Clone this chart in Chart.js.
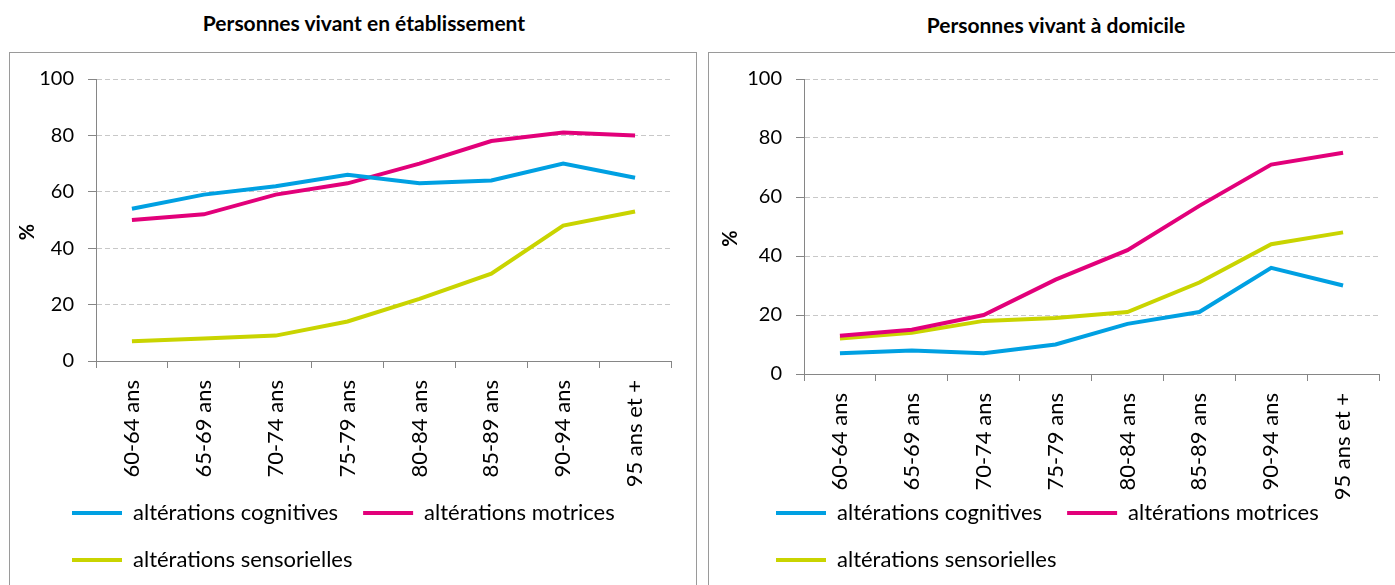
<!DOCTYPE html>
<html>
<head>
<meta charset="utf-8">
<script src="https://cdn.jsdelivr.net/npm/chart.js@4"></script>
<style>
  body { margin: 0; background: #fff; font-family: Lato, sans-serif; }
  .title { position: absolute; font-weight: bold; color: #000; text-align: center; white-space: nowrap; width: 500px; }
  .box { position: absolute; border: 1px solid #9a9a9a; border-bottom: none; background: #fff; }
  .box canvas { position: absolute; left: 0; top: 0; }
</style>
</head>
<body>
<div class="title" style="left:114px; top:10px; font-size:21px;">Personnes vivant en établissement</div>
<div class="title" style="left:806px; top:12px; font-size:21px;">Personnes vivant à domicile</div>

<div class="box" style="left:9px; top:52px; width:686px; height:533px;">
  <canvas id="etab" width="686" height="533"></canvas>
</div>
<div class="box" style="left:708px; top:52px; width:700px; height:533px;">
  <canvas id="dom" width="686" height="533"></canvas>
</div>

<script>
const ageGroups = ['60-64 ans', '65-69 ans', '70-74 ans', '75-79 ans', '80-84 ans', '85-89 ans', '90-94 ans', '95 ans et +'];
const seriesNames = ['altérations cognitives', 'altérations motrices', 'altérations sensorielles'];
const seriesColors = ['#00a0e2', '#e2007a', '#c9d400'];

// établissement
const etabCognitives = [54, 59, 62, 66, 63, 64, 70, 65];
const etabMotrices = [50, 52, 59, 63, 70, 78, 81, 80];
const etabSensorielles = [7, 8, 9, 14, 22, 31, 48, 53];

// domicile
const domCognitives = [7, 8, 7, 10, 17, 21, 36, 30];
const domMotrices = [13, 15, 20, 32, 42, 57, 71, 75];
const domSensorielles = [12, 14, 18, 19, 21, 31, 44, 48];

const yTicks = [0, 20, 40, 60, 80, 100];

Chart.defaults.font.family = 'Lato';
Chart.defaults.color = '#000';

// put the legend where it is in the picture without moving the axes
const legendPlace = {
  id: 'legendPlace',
  afterLayout(chart, args, opts) {
    const lg = chart.legend;
    lg.left += opts.dx;
    lg.right += opts.dx;
    lg.top = opts.top;
    lg.bottom = opts.top + opts.height;
    lg.height = opts.height;
  }
};

function makeChart(id, values, lay) {
  return new Chart(document.getElementById(id), {
    type: 'line',
    data: {
      labels: ageGroups,
      datasets: values.map((v, i) => ({
        label: seriesNames[i],
        data: v,
        borderColor: seriesColors[i],
        backgroundColor: seriesColors[i],
        borderWidth: 4,
        pointRadius: 0,
        tension: 0
      }))
    },
    plugins: [legendPlace],
    options: {
      responsive: false,
      animation: false,
      layout: { padding: { left: lay.padLeft, right: lay.padRight, top: 24, bottom: 8 } },
      scales: {
        x: {
          offset: true,
          grid: { offset: true, drawOnChartArea: false, tickLength: 7, color: '#868686' },
          border: { color: '#868686' },
          ticks: { minRotation: 90, maxRotation: 90, padding: 12, font: { size: 22 } },
          afterFit: s => { s.height = lay.xHeight; }
        },
        y: {
          min: 0,
          max: 100,
          afterBuildTicks: s => { s.ticks = yTicks.map(v => ({ value: v })); },
          grid: {
            color: c => (c.tick && c.tick.value === 0) ? 'rgba(0,0,0,0)' : '#c8c8c8',
            tickColor: '#868686',
            tickLength: 8
          },
          border: { color: '#868686', dash: [5, 3] },
          ticks: { padding: 14, font: { size: 20 } },
          title: { display: true, text: '%     ', padding: 0, font: { size: 20, weight: 'bold' } },
          afterFit: s => { s.width = lay.yWidth; }
        }
      },
      plugins: {
        legendPlace: { dx: lay.legendDx, top: 424, height: 109 },
        tooltip: { enabled: false },
        legend: {
          position: 'bottom',
          align: 'start',
          maxHeight: 60,
          labels: {
            boxWidth: 50,
            boxHeight: 4,
            padding: 25,
            color: '#000',
            font: { size: 22 },
            generateLabels: ch => Chart.defaults.plugins.legend.labels.generateLabels(ch)
              .map(it => Object.assign(it, { lineWidth: 0 }))
          }
        }
      }
    }
  });
}

makeChart('etab', [etabCognitives, etabMotrices, etabSensorielles],
  { padLeft: 6, padRight: 25, yWidth: 80, xHeight: 157, legendDx: 31 });
makeChart('dom', [domCognitives, domMotrices, domSensorielles],
  { padLeft: 10, padRight: 16, yWidth: 85, xHeight: 144, legendDx: 32 });
</script>
</body>
</html>
